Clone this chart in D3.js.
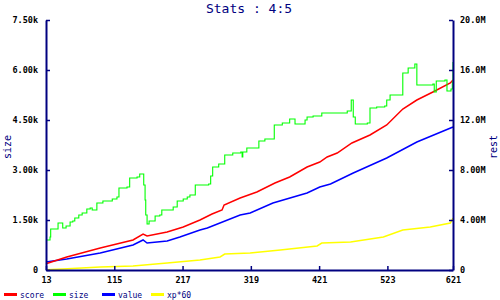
<!DOCTYPE html>
<html>
<head>
<meta charset="utf-8">
<script src="https://cdn.jsdelivr.net/npm/d3@7.9.0/dist/d3.min.js"></script>
<style>
  body { margin: 0; background: #fff; }
  svg { display: block; }
  .tick text { font-family: "DejaVu Sans Mono", monospace; font-size: 8.5px; font-weight: bold; fill: #000; }
</style>
</head>
<body>
<svg id="chart" width="500" height="300"></svg>
<script>
const xTicks = [13, 115, 217, 319, 421, 523, 621];
const leftTicks = [0, 1500, 3000, 4500, 6000, 7500];
const leftLabels = ['0', '1.50k', '3.00k', '4.50k', '6.00k', '7.50k'];
const rightTicks = [0, 4, 8, 12, 16, 20];
const rightLabels = ['0', '4.00M', '8.00M', '12.0M', '16.0M', '20.0M'];

// size (left axis), step series
const sizeData = [
  [13, 900], [19, 990], [20, 1230], [31, 1410], [38, 1260], [43, 1320], [49, 1440],
  [53, 1470], [56, 1560], [62, 1650], [67, 1710], [74, 1830], [79, 1860], [82, 1800],
  [89, 2010], [98, 2070], [112, 2130], [119, 2190], [122, 2460], [134, 2490],
  [138, 2760], [149, 2790], [153, 2880], [159, 2550], [161, 2100], [162, 1650],
  [164, 1380], [167, 1470], [176, 1620], [183, 1650], [186, 1800], [203, 1890],
  [209, 2070], [218, 2130], [224, 2190], [228, 2250], [236, 2550], [256, 2580],
  [259, 2820], [262, 3090], [271, 3180], [280, 3450], [292, 3510], [304, 3540],
  [306, 3390], [307, 3540], [313, 3660], [331, 3870], [340, 3930], [354, 4350],
  [366, 4410], [377, 4530], [385, 4380], [400, 4500], [403, 4590], [412, 4620],
  [425, 4710], [463, 4770], [469, 5100], [472, 4590], [475, 4380], [493, 4410],
  [497, 4860], [507, 4890], [519, 4920], [522, 5100], [527, 5250], [546, 5910],
  [554, 6060], [564, 6180], [567, 5550], [591, 5580], [593, 5340], [596, 5670],
  [609, 5700], [612, 5370], [618, 5430], [620, 5640], [621, 6240]
];

// right axis series, in millions
const scoreData = [
  [13, 0.5], [44, 1.04], [94, 1.76], [143, 2.40], [158, 2.88], [164, 2.72], [194, 3.04],
  [218, 3.44], [243, 4.00], [261, 4.48], [276, 4.80], [279, 5.20], [303, 5.76],
  [328, 6.24], [355, 6.96], [377, 7.44], [403, 8.24], [422, 8.64], [433, 9.04],
  [448, 9.36], [470, 10.16], [497, 10.80], [522, 11.60], [546, 12.88], [567, 13.60],
  [591, 14.24], [617, 14.96], [621, 15.20]
];
const valueData = [
  [13, 0.64], [44, 0.88], [94, 1.36], [143, 2.00], [158, 2.40], [164, 2.16], [194, 2.32],
  [213, 2.64], [243, 3.20], [254, 3.36], [303, 4.40], [318, 4.56], [352, 5.36],
  [403, 6.16], [422, 6.64], [438, 6.88], [472, 7.76], [522, 8.96], [567, 10.24],
  [621, 11.44]
];
const xpData = [
  [13, 0.02], [38, 0.08], [94, 0.24], [143, 0.32], [194, 0.56], [243, 0.80], [273, 1.04],
  [280, 1.28], [318, 1.36], [363, 1.60], [418, 1.92], [425, 2.16], [468, 2.24],
  [517, 2.64], [546, 3.20], [587, 3.44], [617, 3.76], [621, 4.16]
];

const navy = '#000080';
const svg = d3.select('#chart');
svg.append('rect').attr('width', 500).attr('height', 300).attr('fill', '#fff');

const x = d3.scaleLinear().domain([13, 621]).range([46, 453]);
const yL = d3.scaleLinear().domain([0, 7500]).range([270, 20]);
const yR = d3.scaleLinear().domain([0, 20]).range([270, 20]);

// title
svg.append('text')
  .attr('x', 249).attr('y', 13)
  .attr('text-anchor', 'middle')
  .style('font-family', '"DejaVu Sans Mono", monospace')
  .style('font-size', '13px')
  .attr('fill', navy)
  .text('Stats : 4:5');

// series
const series = [
  { data: xpData, y: yR, color: '#ffff00', curve: d3.curveLinear, w: 1.5 },
  { data: valueData, y: yR, color: '#0000ff', curve: d3.curveLinear, w: 1.5 },
  { data: scoreData, y: yR, color: '#ff0000', curve: d3.curveLinear, w: 1.5 },
  { data: sizeData, y: yL, color: '#00ff00', curve: d3.curveStepAfter, w: 1.1 },
];
series.forEach(s => {
  svg.append('path')
    .datum(s.data)
    .attr('fill', 'none')
    .attr('stroke', s.color)
    .attr('stroke-width', s.w)
    .attr('d', d3.line().curve(s.curve).x(d => x(d[0])).y(d => s.y(d[1])));
});

function styleAxis(g) {
  g.selectAll('.domain').attr('stroke', navy).attr('stroke-width', 2);
  g.selectAll('.tick line').attr('stroke', navy).attr('stroke-width', 1.5);
}

svg.append('g')
  .attr('transform', 'translate(0,270)')
  .call(d3.axisBottom(x).tickValues(xTicks).tickSizeInner(-4).tickSizeOuter(0).tickPadding(7))
  .call(styleAxis);

svg.append('g')
  .attr('transform', 'translate(46,0)')
  .call(d3.axisLeft(yL).tickValues(leftTicks).tickSizeInner(-4).tickSizeOuter(0).tickPadding(8)
    .tickFormat((d, i) => leftLabels[i]))
  .call(styleAxis);

svg.append('g')
  .attr('transform', 'translate(453,0)')
  .call(d3.axisRight(yR).tickValues(rightTicks).tickSizeInner(-4).tickSizeOuter(0).tickPadding(7)
    .tickFormat((d, i) => rightLabels[i]))
  .call(styleAxis);

// axis titles
const axisTitle = (tx, ty, label) => svg.append('text')
  .attr('transform', `translate(${tx},${ty}) rotate(-90)`)
  .attr('text-anchor', 'middle')
  .style('font-family', '"DejaVu Sans Mono", monospace')
  .style('font-size', '10px')
  .attr('fill', navy)
  .text(label);
axisTitle(11, 147, 'size');
axisTitle(497, 147, 'rest');

// legend
const legend = [
  { name: 'score', color: '#ff0000', x: 4 },
  { name: 'size', color: '#00ff00', x: 53 },
  { name: 'value', color: '#0000ff', x: 102 },
  { name: 'xp*60', color: '#ffff00', x: 151 },
];
const lg = svg.append('g');
legend.forEach(l => {
  lg.append('line')
    .attr('x1', l.x).attr('x2', l.x + 13)
    .attr('y1', 294.5).attr('y2', 294.5)
    .attr('stroke', l.color).attr('stroke-width', 3);
  lg.append('text')
    .attr('x', l.x + 16).attr('y', 298)
    .style('font-family', '"DejaVu Sans Mono", monospace')
    .style('font-size', '8px')
    .attr('fill', navy)
    .text(l.name);
});
</script>
</body>
</html>
